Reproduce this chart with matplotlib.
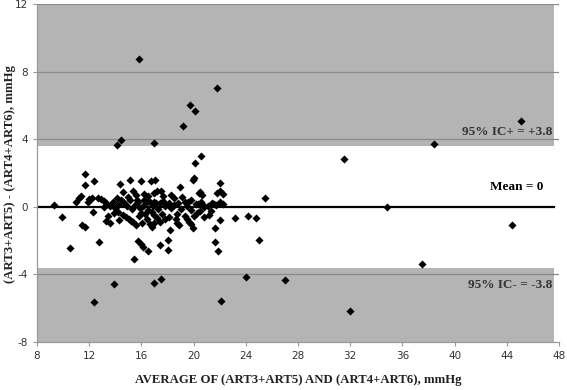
import numpy as np
import matplotlib
matplotlib.use("Agg")
import matplotlib.pyplot as plt

plt.rcParams['axes.unicode_minus'] = False

# Bland-Altman: average vs difference (mmHg)
avg = [
    15.85, 21.8, 19.7, 20.1, 19.2, 14.45, 14.1, 17.0, 45.1, 38.45, 31.55,
    12.35, 13.9, 17.0, 17.5, 22.1, 24.0, 27.0, 32.0, 37.5, 44.4, 34.85, 25.5,
    9.3, 9.95, 10.5, 11.0, 11.4, 11.45, 11.7, 11.68, 11.66, 11.9, 12.25, 12.3,
    12.35, 12.7, 12.72, 13.1, 13.1, 13.3, 13.45, 13.3, 13.6, 13.93, 14.24,
    14.24, 14.32, 14.42, 14.55, 14.58, 14.62, 14.7, 14.81, 15.01, 15.14, 15.14,
    15.19, 15.39, 15.39, 15.44, 15.65, 15.75, 15.8, 15.75, 15.96, 16.13, 15.98,
    16.03, 16.16, 16.2, 16.31, 16.42, 16.42, 16.47, 16.49, 16.62, 16.67, 16.72,
    16.8, 16.93, 16.98, 17.0, 17.06, 17.13, 17.18, 17.23, 17.39, 17.46, 17.46,
    17.5, 17.6, 17.62, 17.64, 18.0, 18.0, 18.08, 18.15, 18.18, 18.26, 18.69,
    18.67, 18.72, 18.84, 18.92, 19.3, 19.33, 19.49, 19.64, 19.77, 19.82, 19.92,
    19.95, 20.0, 20.05, 20.07, 20.2, 20.26, 20.33, 20.38, 20.46, 20.5, 20.56,
    20.66, 20.76, 20.82, 21.33, 21.4, 21.58, 21.66, 21.66, 21.71, 21.79, 21.87,
    21.99, 21.99, 21.99, 22.22, 22.27, 23.14, 24.14, 24.81, 25.0,
    13.6, 14.0, 14.9, 15.3, 15.5, 15.9, 16.1, 16.5, 16.9, 17.3, 17.8, 18.3,
    18.5, 19.0, 19.5, 19.8, 20.6, 21.1, 22.0, 15.0, 15.55, 16.0, 17.0, 17.8,
    19.1, 14.1, 13.8, 12.9, 12.0, 11.2, 18.5, 19.6, 21.2, 20.8, 15.6, 16.8,
    14.3, 18.9,
]
diff = [
    8.75, 7.05, 6.05, 5.65, 4.8, 3.95, 3.65, 3.75, 5.1, 3.7, 2.8,
    -5.65, -4.55, -4.5, -4.3, -5.55, -4.15, -4.35, -6.15, -3.4, -1.05, 0.0, 0.55,
    0.08, -0.6, -2.45, 0.28, 0.63, -1.08, -1.2, 1.95, 1.3, 0.3, 0.55, -0.3,
    1.5, 0.55, -2.08, 0.36, -0.04, 0.2, -0.55, -0.83, -0.97, -0.38, -0.28,
    0.12, 1.36, 0.43, 0.3, 0.9, -0.47, 0.25, -0.59, -0.73, 0.41, 1.6,
    -0.83, -0.87, 0.93, -3.1, 0.41, 0.28, -0.55, -2.05, -2.2, -2.35, 1.5,
    -0.97, 0.43, 0.78, -0.43, 0.31, -0.75, -2.64, 0.65, -1.03, 0.31, 1.5,
    -0.31, 0.79, 0.31, -0.51, 1.6, 0.2, 0.91, -0.67, -0.87, 0.22, -2.25,
    0.95, -0.4, 0.65, 0.36, -1.95, -2.54, -0.59, 0.25, -1.4, 0.71, -0.43,
    -0.73, -0.93, 0.24, 1.18, 0.28, -0.53, -0.75, -0.87, -1.03, 0.43, -1.26,
    1.6, 1.7, -0.53, 2.62, 0.18, -0.37, 0.16, 0.81, -0.25, 0.9, 3.0,
    0.67, 0.06, -0.04, -0.24, 0.22, 0.16, -1.26, -2.09, 0.1, 0.79, -2.6,
    1.4, 0.91, -0.81, 0.75, 0.14, -0.67, -0.57, -0.67, -1.97,
    0.05, -0.1, 0.05, -0.15, 0.1, -0.1, 0.05, -0.2, 0.05, -0.15, 0.05, -0.1,
    0.1, -0.15, 0.05, -0.2, 0.3, 0.05, 0.3, 0.6, 0.7, -0.35, -0.95, -0.75,
    0.6, 0.5, 0.3, 0.45, 0.45, 0.5, 0.5, 0.3, -0.5, -0.6, -1.1, -1.2,
    -0.8, -1.1,
]

mean_diff = 0
band_edge = 3.6
x_ticks = [8, 12, 16, 20, 24, 28, 32, 36, 40, 44, 48]
y_ticks = [-8, -4, 0, 4, 8, 12]

fig = plt.figure(figsize=(5.67, 3.9), dpi=100)
ax = fig.add_axes([0.0653, 0.1231, 0.9207, 0.8666])

band_gray = '#b4b4b4'
ax.fill_between([8, 47.6], band_edge, 12, color=band_gray, lw=0, zorder=0)
ax.fill_between([8, 47.6], -8, -band_edge, color=band_gray, lw=0, zorder=0)

for yv in [-4, 4, 8, 12]:
    ax.axhline(yv, color='#8a8a8a', lw=0.9, zorder=1)
ax.plot([8, 47.6], [mean_diff, mean_diff], color='black', lw=1.6, zorder=2)

ax.scatter(avg, diff, marker='D', s=17, color='black', lw=0, zorder=3)

ax.set_xlim(8, 48)
ax.set_ylim(-8, 12)
ax.set_xticks(x_ticks)
ax.set_yticks(y_ticks)
ax.tick_params(axis='both', labelsize=7.5, labelcolor='#333333',
               color='#999999', length=3, width=0.8)
for s in ['top', 'right']:
    ax.spines[s].set_visible(False)
for s in ['left', 'bottom']:
    ax.spines[s].set_color('#999999')
    ax.spines[s].set_linewidth(0.9)

serif = dict(family='Liberation Serif', weight='bold')
ax.text(47.5, 4.45, '95% IC+ = +3.8', ha='right', va='center', fontsize=9.5,
        color='#333333', **serif)
ax.text(46.8, 1.2, 'Mean = 0', ha='right', va='center', fontsize=9.5,
        color='black', **serif)
ax.text(47.5, -4.6, '95% IC- = -3.8', ha='right', va='center', fontsize=9.5,
        color='#333333', **serif)

fig.text(0.526, 1 - 380 / 390, 'AVERAGE OF (ART3+ART5) AND (ART4+ART6), mmHg',
         ha='center', va='center', fontsize=9.2, color='#222222', **serif)
fig.text(10 / 567, 1 - 174 / 390, '(ART3+ART5) - (ART4+ART6), mmHg',
         ha='center', va='center', rotation=90, fontsize=9.2, color='#222222', **serif)

fig.savefig('out.png', dpi=100)
